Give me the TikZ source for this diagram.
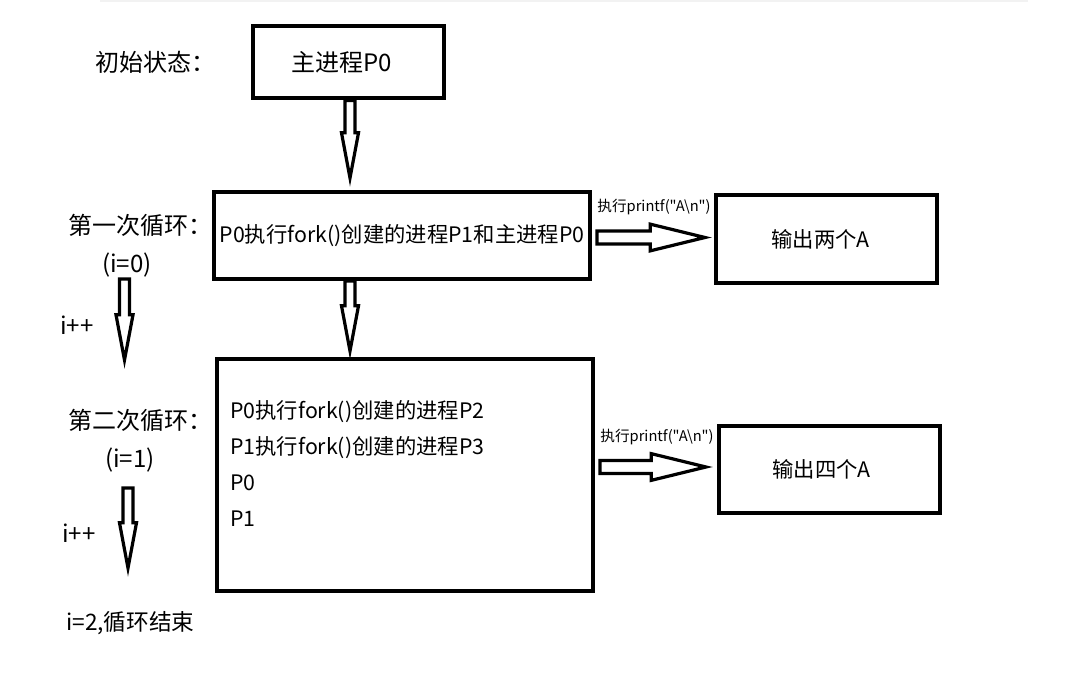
\documentclass[tikz,border=0pt]{standalone}
\usepackage{fontspec}
\setmainfont{Noto Sans CJK SC}[Ligatures=TeXOff]
\usetikzlibrary{calc, positioning}

\begin{document}
\begin{tikzpicture}[x=0.75pt, y=-0.75pt,
		font=\fontsize{16}{20}\selectfont,
		box/.style={draw, line width=3pt, inner sep=0pt},
		tag/.style={inner sep=0pt, anchor=west, font=\fontsize{18}{20}\selectfont},
		call/.style={inner sep=0pt, font=\fontsize{11}{13}\selectfont},
		arrowline/.style={draw, line width=2.4pt, fill=white, line join=miter}]
	\def\wv{3.75pt};
	\def\hv{6.4pt};
	\def\lv{34pt};
	\def\wh{4.9pt};
	\def\hh{10pt};
	\def\lh{41pt};
	
	% hollow block arrow: from, tip, shaft half width, head half width, head length
	\def\blockarrow#1#2#3#4#5{
		\coordinate (ba) at (#1);
		\coordinate (bb) at (#2);
		\coordinate (bc) at ($(bb)!#5!(ba)$);
		\draw [arrowline] ($(ba)!#3!90:(bb)$) -- ($(bc)!#3!-90:(ba)$) -- ($(bc)!#4!-90:(ba)$) -- (bb) -- ($(bc)!#4!90:(ba)$) -- ($(bc)!#3!90:(ba)$) -- ($(ba)!#3!-90:(bb)$) -- cycle;
	}
	
	\useasboundingbox (0,0) rectangle (1085,673);
	\fill [black!5] (100,0) rectangle (1028,2.5);
	
	\begin{scope}
		\node [box, minimum width=143.25pt, minimum height=54pt, font=\fontsize{18}{20}\selectfont] (init) at (348,62.5) {\hspace*{-9pt}主进程P0};
		\node [box, minimum width=282pt, minimum height=65.25pt] (loop1) at (402,235.5) {P0执行fork()创建的进程P1和主进程P0};
		\node [box, minimum width=165.75pt, minimum height=66pt] (out1) at (826.5,239) {\hspace*{-9pt}输出两个A};
		\node [box, minimum width=282pt, minimum height=174pt] (loop2) at (405,475) {};
		\node [box, minimum width=165.75pt, minimum height=65.25pt] (out2) at (829.5,469.5) {\hspace*{-12pt}输出四个A};
		
		\node [inner sep=0pt, anchor=west, align=left, font=\fontsize{16}{26.8}\selectfont] (forks) at ($(loop2.west)+(15,-11.5)$) {P0执行fork()创建的进程P2\\P1执行fork()创建的进程P3\\P0\\P1};
	\end{scope}
	
	\begin{scope}
		\node [tag] (state) at (95,62) {初始状态：};
		\node [tag] (first) at (68,225) {第一次循环：};
		\node [tag, anchor=center] (i0) at (127,265) {(i=0)};
		\node [tag] (inc1) at (60,325) {i++};
		\node [tag] (second) at (68,420) {第二次循环：};
		\node [tag, anchor=center] (i1) at (130,460) {(i=1)};
		\node [tag] (inc2) at (62,533) {i++};
		\node [tag, font=\fontsize{17}{20}\selectfont] (done) at (66,623) {i=2,循环结束};
		
		\node [call] (call1) at (654,207) {执行printf("A\textbackslash n")};
		\node [call] (call2) at (657,437) {执行printf("A\textbackslash n")};
	\end{scope}
	
	\begin{scope}
		\coordinate (l1a) at (124.5,279);
		\coordinate (l1b) at (124.5,360);
		\coordinate (l2a) at (128,488);
		\coordinate (l2b) at (128,568);
		
		\blockarrow{350,0 |- init.south}{$(350,0 |- loop1.north)+(0,-12)$}{\wv}{\hv}{\lv}
		\blockarrow{350,0 |- loop1.south}{$(350,0 |- loop2.north)+(0,-6)$}{\wv}{\hv}{\lv}
		\blockarrow{$(loop1.east)+(5,2)$}{$(out1.west)+(-9,-1.5)$}{\wh}{\hh}{\lh}
		\blockarrow{$(loop2.east)+(5,-8)$}{$(out2.west)+(-11,-2.5)$}{\wh}{\hh}{\lh}
		\blockarrow{l1a}{l1b}{\wv}{\hv}{\lv}
		\blockarrow{l2a}{l2b}{\wv}{\hv}{\lv}
	\end{scope}
\end{tikzpicture}
\end{document}
